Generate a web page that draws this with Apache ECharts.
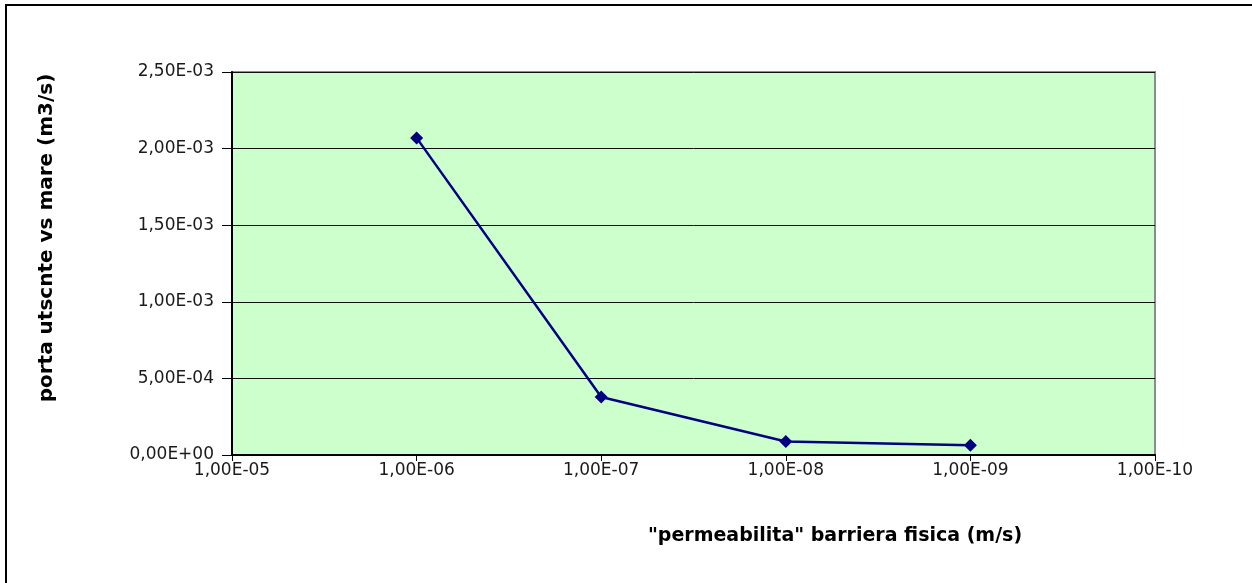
<!DOCTYPE html>
<html>
<head>
<meta charset="utf-8">
<script src="https://cdn.jsdelivr.net/npm/echarts@6/dist/echarts.min.js"></script>
<style>
  html, body { margin: 0; padding: 0; background: #fff; }
  #frame { position: absolute; left: 5px; top: 4px; width: 1300px; height: 640px; border-top: 2px solid #000; border-left: 2px solid #000; }
  #myChart { position: absolute; left: 0; top: 0; width: 1252px; height: 583px; }
</style>
</head>
<body>
<div id="frame"></div>
<div id="myChart"></div>
<script>
  // permeabilita (m/s) e portata uscente verso mare (m3/s)
  const permeability = [1e-6, 1e-7, 1e-8, 1e-9];
  const outflow = [2.07e-3, 3.79e-4, 8.8e-5, 6.4e-5];

  const yTitle = 'porta utscnte vs mare (m3/s)';
  const xTitle = '"permeabilita" barriera fisica (m/s)';

  const fmtExp = v => {
    if (v === 0) return '0,00E+00';
    const exp = Math.floor(Math.log10(v) + 1e-9);
    const mant = v / Math.pow(10, exp);
    const sign = exp < 0 ? '-' : '+';
    const e = String(Math.abs(exp)).padStart(2, '0');
    return mant.toFixed(2).replace('.', ',') + 'E' + sign + e;
  };

  const option = {
    animation: false,
    backgroundColor: 'transparent',
    textStyle: { fontFamily: 'DejaVu Sans' },
    grid: {
      left: 232,
      top: 72,
      width: 923,
      height: 383,
      show: true,
      backgroundColor: '#CCFFCC',
      borderColor: '#8c8c8c',
      borderWidth: 2
    },
    xAxis: {
      type: 'log',
      logBase: 10,
      min: 1e-10,
      max: 1e-5,
      inverse: true,
      axisLine: { lineStyle: { color: '#000', width: 2 } },
      axisTick: { show: true, length: 6, lineStyle: { color: '#000' } },
      minorTick: { show: false },
      splitLine: { show: false },
      axisLabel: {
        color: '#1a1a1a',
        fontSize: 17,
        margin: 7,
        formatter: v => fmtExp(Math.pow(10, Math.round(Math.log10(v))))
      }
    },
    yAxis: {
      type: 'value',
      min: 0,
      max: 2.5e-3,
      interval: 5e-4,
      axisLine: { show: true, lineStyle: { color: '#000', width: 2 } },
      axisTick: { show: true, length: 10, lineStyle: { color: '#000' } },
      splitLine: { show: true, lineStyle: { color: '#111', width: 1 } },
      axisLabel: {
        color: '#1a1a1a',
        fontSize: 17,
        margin: 18,
        formatter: v => fmtExp(v)
      }
    },
    series: [
      {
        type: 'line',
        data: permeability.map((p, i) => [p, outflow[i]]),
        symbol: 'diamond',
        symbolSize: 13,
        lineStyle: { color: '#000080', width: 2.5 },
        itemStyle: { color: '#000080' }
      }
    ],
    graphic: [
      {
        type: 'text',
        x: 47,
        y: 238,
        rotation: Math.PI / 2,
        style: {
          text: yTitle,
          font: 'bold 20px "DejaVu Sans"',
          fill: '#000',
          align: 'center',
          verticalAlign: 'middle'
        }
      },
      {
        type: 'text',
        x: 835,
        y: 536,
        style: {
          text: xTitle,
          font: 'bold 19px "DejaVu Sans"',
          fill: '#000',
          align: 'center',
          verticalAlign: 'middle'
        }
      }
    ]
  };

  const myChart = echarts.init(document.getElementById('myChart'));
  myChart.setOption(option, true);
</script>
</body>
</html>
